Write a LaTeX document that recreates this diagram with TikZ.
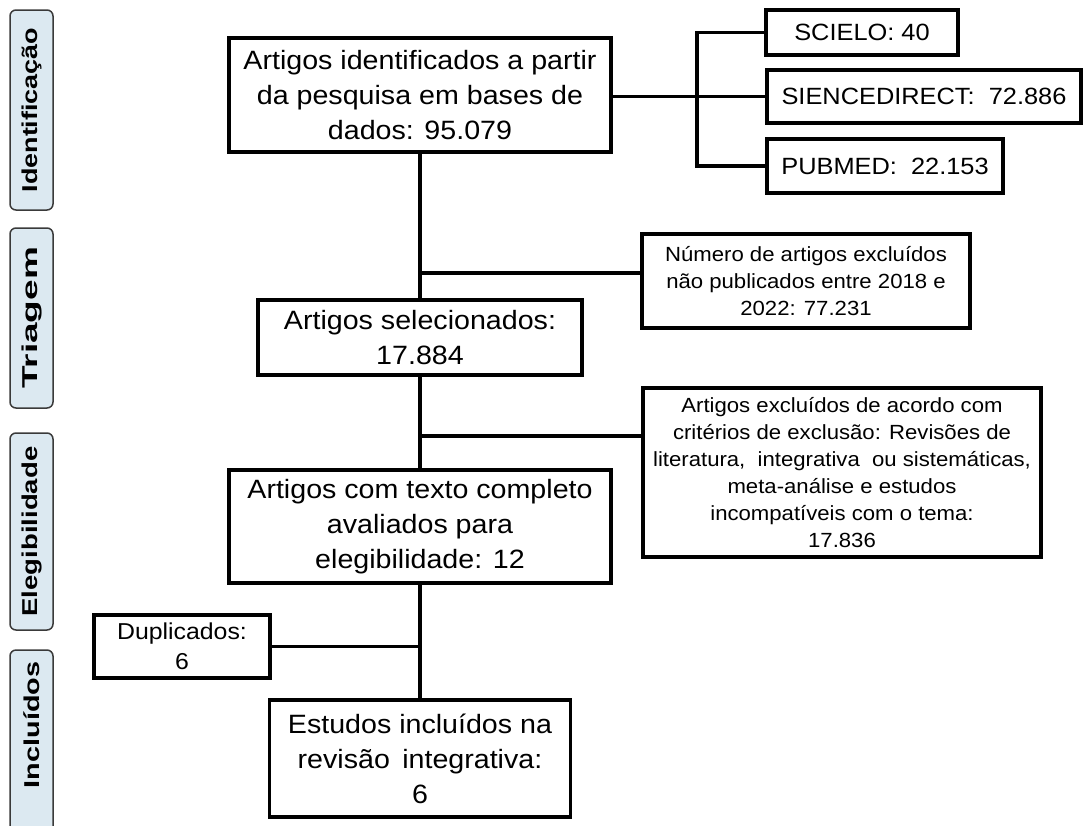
\documentclass[tikz,border=0pt]{standalone}
\usepackage{fontspec}
\usepackage{graphicx}
\setmainfont{Liberation Sans}
\newfontfamily\boxfont{Liberation Sans}[FakeStretch=1.08]
\definecolor{phasefill}{HTML}{DCE9F1}
\definecolor{phaseline}{HTML}{3A3A3A}
\begin{document}
\begin{tikzpicture}[x=1pt,y=-1pt,
  box/.style={draw=black, line width=3.2pt, fill=white, inner sep=0pt, align=center},
  mainbox/.style={box, font=\boxfont\fontsize{26.5}{35}\selectfont},
  dbbox/.style={box, font=\boxfont\fontsize{23.5}{28}\selectfont},
  smallbox/.style={box, font=\boxfont\fontsize{20.5}{27}\selectfont},
  dupbox/.style={box, font=\boxfont\fontsize{23}{30}\selectfont},
  phase/.style={draw=phaseline, fill=phasefill, line width=1.5pt, rounded corners=6pt, rotate=90, minimum height=43pt, inner sep=0pt, font=\bfseries\fontsize{21.5}{21.5}\selectfont},
  phasetext/.style={rotate=90, inner sep=0pt, font=\bfseries\fontsize{21.5}{21.5}\selectfont},
  link/.style={line width=3.2pt}]
\useasboundingbox (0,0) rectangle (1083,825);

% phase labels
\node[phase, minimum width=200pt] (p1) at (31.5,110) {\scalebox{1.255}[1]{Identificação}};
\node[phase, minimum width=180pt] (p2) at (31.5,318) {\scalebox{1.72}[1]{Triagem}};
\node[phase, minimum width=197pt] (p3) at (31.5,531.5) {\scalebox{1.28}[1]{Elegibilidade}};
\node[phase, minimum width=200pt] (p4) at (31.5,750) {};
\node[phasetext] (t4) at (31.5,725) {\scalebox{1.34}[1]{Incluídos}};

% main boxes
\node[mainbox, minimum width=382pt, minimum height=114pt] (b1) at (420,95)
  {Artigos identificados a partir\\da pesquisa em bases de\\dados: 95.079};
\node[mainbox, minimum width=324pt, minimum height=75pt] (b2) at (420,337.5)
  {Artigos selecionados:\\17.884};
\node[mainbox, minimum width=382pt, minimum height=113pt] (b3) at (420,526.5)
  {Artigos com texto completo\\avaliados para\\elegibilidade: 12};
\node[mainbox, minimum width=301pt, minimum height=117pt] (b4) at (420,758.5)
  {Estudos incluídos na\\revisão\, integrativa:\\6};

% side boxes
\node[dbbox, minimum width=192pt, minimum height=45pt] (sci) at (862,32.5) {SCIELO: 40};
\node[dbbox, minimum width=314pt, minimum height=53pt] (sie) at (924,96.5) {SIENCEDIRECT:\ \ 72.886};
\node[dbbox, minimum width=236pt, minimum height=54pt] (pub) at (885,166) {PUBMED:\ \ 22.153};
\node[smallbox, minimum width=328pt, minimum height=94pt] (num) at (806,281)
  {Número de artigos excluídos\\não publicados entre 2018 e\\2022: 77.231};
\node[smallbox, minimum width=398pt, minimum height=169pt] (exc) at (842,472.5)
  {Artigos excluídos de acordo com\\critérios de exclusão: Revisões de\\literatura,\ \ integrativa\ \ ou sistemáticas,\\meta-análise e estudos\\incompatíveis com o tema:\\17.836};
\node[dupbox, minimum width=176pt, minimum height=63pt] (dup) at (182,646.5) {Duplicados:\\6};

% connectors
\coordinate (j1) at (420,273);
\coordinate (j2) at (420,436);
\coordinate (dj) at (697,96.5);
\draw[link] (b1.south) -- (b2.north);
\draw[link] (b2.south) -- (b3.north);
\draw[link] (b3.south) -- (b4.north);
\draw[link] (j1) -- (j1 -| num.west);
\draw[link] (j2) -- (j2 -| exc.west);
\draw[link] (dup.east) -- (dup.east -| b3.south);
\draw[link] (b1.east |- sie.west) -- (sie.west);
\draw[link] (sci.west) -- (sci.west -| dj) -- (pub.west -| dj) -- (pub.west);
\end{tikzpicture}
\end{document}
